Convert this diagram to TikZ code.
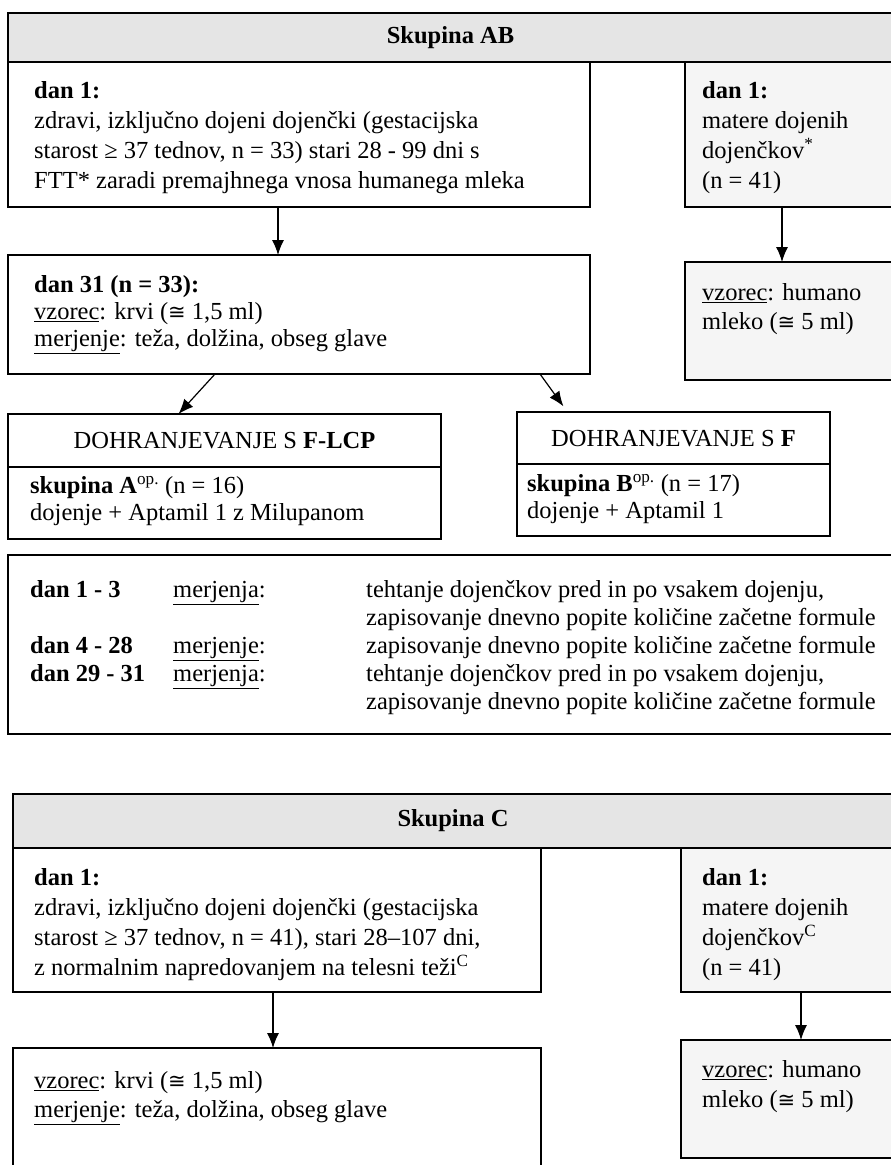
\documentclass[tikz,border=0pt]{standalone}
\usepackage{fontspec}
\setmainfont{Liberation Serif}
\newfontfamily\symfont{DejaVu Sans}
\usetikzlibrary{arrows.meta}

\newcommand{\fsz}{\fontsize{24.5}{29}\selectfont}
\newcommand{\kongr}{{\symfont\fontsize{21}{29}\selectfont ≅}}

\tikzset{
  box/.style={draw, line width=1.5pt, anchor=north west, inner sep=0pt, outer sep=0pt},
  head/.style={box, fill=gray!20, font=\fsz\bfseries},
  mom/.style={box, fill=gray!8},
  txt/.style={anchor=north west, align=left, inner sep=0pt, font=\fsz},
  arr/.style={line width=1.2pt, -{Latex[length=15pt,width=12pt]}}
}

\begin{document}
\begin{tikzpicture}[x=1pt,y=-1pt]
        \useasboundingbox (0,0) rectangle (891,1165);

        \node[head, minimum width=885, minimum height=49] (hdrAB) at (8,13) {Skupina AB};
        \node[box, minimum width=582, minimum height=145] (dayAB) at (8,62) {};
        \node[mom, minimum width=208, minimum height=145] (momAB) at (685,62) {};
        \node[box, minimum width=582, minimum height=119] (smpAB) at (8,255) {};
        \node[mom, minimum width=208, minimum height=118] (milkAB) at (685,262) {};
        \node[box, minimum width=433, minimum height=125] (lcpAB) at (8,414) {};
        \node[box, minimum width=313, minimum height=124] (fAB) at (517,412) {};
        \node[box, minimum width=885, minimum height=179] (measAB) at (8,555) {};
        \draw[line width=1.5pt] (lcpAB.west |- 0,467) -- (lcpAB.east |- 0,467);
        \draw[line width=1.5pt] (fAB.west |- 0,464) -- (fAB.east |- 0,464);

        \node[txt, font=\fontsize{24.5}{30}\selectfont] (dayABtxt) at (34,81)
          {\textbf{dan 1:}\\ zdravi, izključno dojeni dojenčki (gestacijska\\
           starost ≥ 37 tednov, n = 33) stari 28 - 99 dni s\\
           FTT* zaradi premajhnega vnosa humanega mleka};
        \node[txt, font=\fontsize{24.5}{30}\selectfont] (momABtxt) at (702,81)
          {\textbf{dan 1:}\\ matere dojenih\\ dojenčkov\textsuperscript{*}\\ (n = 41)};
        \node[txt, font=\fontsize{24.5}{27}\selectfont] (smpABtxt) at (34,275)
          {\textbf{dan 31 (n = 33):}\\ \underline{vzorec}: krvi (\kongr{} 1,5 ml)\\
           \underline{merjenje}: teža, dolžina, obseg glave};
        \node[txt] (milkABtxt) at (702,283) {\underline{vzorec}: humano\\ mleko (\kongr{} 5 ml)};
        \node[font=\fsz] (lcpHead) at (224.5,441) {DOHRANJEVANJE S \textbf{F-LCP}};
        \node[txt, font=\fontsize{24.5}{27}\selectfont] (lcpTxt) at (30,476)
          {\textbf{skupina A}\textsuperscript{op.} (n = 16)\\ dojenje + Aptamil 1 z Milupanom};
        \node[font=\fsz] (fHead) at (673.5,439) {DOHRANJEVANJE S \textbf{F}};
        \node[txt, font=\fontsize{24.5}{27}\selectfont] (fTxt) at (527,474)
          {\textbf{skupina B}\textsuperscript{op.} (n = 17)\\ dojenje + Aptamil 1};
        \node[txt, font=\fontsize{24.5}{28}\selectfont] (measTxt) at (30,578)
          {\begin{tabular}{@{}p{143pt}@{}p{193pt}@{}l@{}}
           \textbf{dan 1 - 3} & \underline{merjenja}: & tehtanje dojenčkov pred in po vsakem dojenju,\\
            & & zapisovanje dnevno popite količine začetne formule\\
           \textbf{dan 4 - 28} & \underline{merjenje}: & zapisovanje dnevno popite količine začetne formule\\
           \textbf{dan 29 - 31} & \underline{merjenja}: & tehtanje dojenčkov pred in po vsakem dojenju,\\
            & & zapisovanje dnevno popite količine začetne formule
           \end{tabular}};

        \draw[arr] ([xshift=-21pt]dayAB.south) -- ([xshift=-21pt]smpAB.north);
        \draw[arr] ([xshift=-7pt]momAB.south) -- ([xshift=-7pt]milkAB.north);
        \draw[arr] ([xshift=-84pt]smpAB.south) -- ([xshift=-46pt]lcpAB.north);
        \draw[arr, shorten >=7pt] ([xshift=241pt]smpAB.south) -- ([xshift=-106pt]fAB.north);

        \node[head, minimum width=880, minimum height=54] (hdrC) at (13,794) {Skupina C};
        \node[box, minimum width=528, minimum height=144] (dayC) at (13,848) {};
        \node[mom, minimum width=212, minimum height=144] (momC) at (681,848) {};
        \node[box, minimum width=528, minimum height=130] (smpC) at (13,1048) {};
        \node[mom, minimum width=212, minimum height=118] (milkC) at (681,1040) {};

        \node[txt, font=\fontsize{24.5}{30}\selectfont] (dayCtxt) at (34,868)
          {\textbf{dan 1:}\\ zdravi, izključno dojeni dojenčki (gestacijska\\
           starost ≥ 37 tednov, n = 41), stari 28–107 dni,\\
           z normalnim napredovanjem na telesni teži\textsuperscript{C}};
        \node[txt, font=\fontsize{24.5}{30}\selectfont] (momCtxt) at (702,868)
          {\textbf{dan 1:}\\ matere dojenih\\ dojenčkov\textsuperscript{C}\\ (n = 41)};
        \node[txt] (smpCtxt) at (34,1071)
          {\underline{vzorec}: krvi (\kongr{} 1,5 ml)\\ \underline{merjenje}: teža, dolžina, obseg glave};
        \node[txt, font=\fontsize{24.5}{30}\selectfont] (milkCtxt) at (702,1060)
          {\underline{vzorec}: humano\\ mleko (\kongr{} 5 ml)};

        \draw[arr] ([xshift=-4pt]dayC.south) -- ([xshift=-4pt]smpC.north);
        \draw[arr] ([xshift=14pt]momC.south) -- ([xshift=14pt]milkC.north);
\end{tikzpicture}
\end{document}
